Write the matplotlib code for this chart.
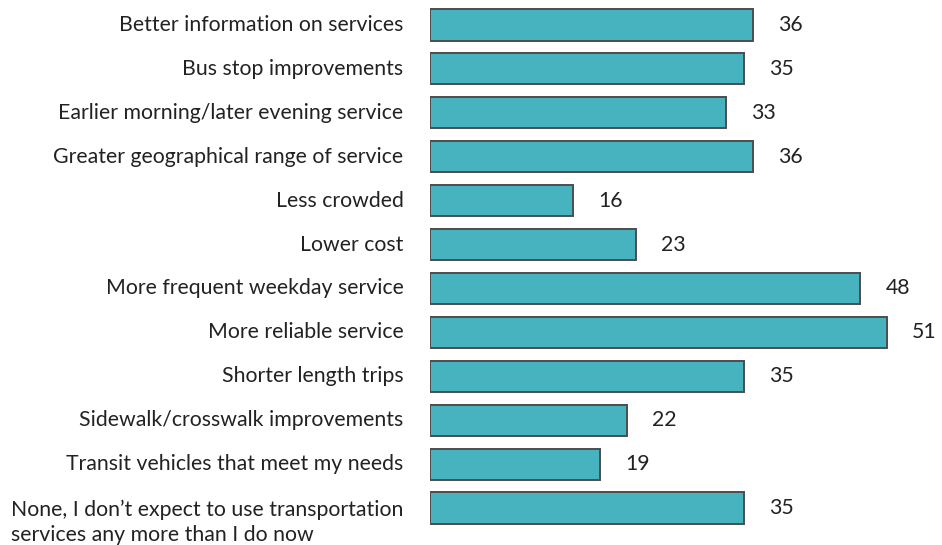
import matplotlib.pyplot as plt

categories = [
    "Better information on services",
    "Bus stop improvements",
    "Earlier morning/later evening service",
    "Greater geographical range of service",
    "Less crowded",
    "Lower cost",
    "More frequent weekday service",
    "More reliable service",
    "Shorter length trips",
    "Sidewalk/crosswalk improvements",
    "Transit vehicles that meet my needs",
    "None, I don\u2019t expect to use transportation\nservices any more than I do now",
]
values = [36, 35, 33, 36, 16, 23, 48, 51, 35, 22, 19, 35]

plt.rcParams['font.family'] = ['Lato', 'DejaVu Sans']
text_color = '#222222'

fig = plt.figure(figsize=(9.42, 5.45), dpi=100)
ax = fig.add_axes([430 / 942, 15 / 545, 502 / 942, 527 / 545])

ypos = list(range(len(categories)))
bars = ax.barh(ypos, values, height=0.71, color='#46b3be',
               edgecolor='#4d4d4d', linewidth=1.4)

ax.set_xlim(0, 56)
ax.set_ylim(len(categories) - 0.5, -0.5)
ax.axis('off')

# category labels to the left of the bars
for i, label in enumerate(categories):
    dy = -10 if '\n' in label else 0
    ax.annotate(label, xy=(0, i), xycoords=('axes fraction', 'data'),
                xytext=(-19, dy), textcoords='offset points',
                ha='right', va='center', multialignment='left',
                fontsize=15.3, color=text_color, linespacing=1.3,
                annotation_clip=False)

# value labels
for rect, v in zip(bars, values):
    ax.annotate(str(v), xy=(rect.get_width(), rect.get_y() + rect.get_height() / 2),
                xytext=(18, 0), textcoords='offset points',
                ha='left', va='center', fontsize=15.3, color=text_color,
                annotation_clip=False)

fig.savefig('out.png', dpi=100)
